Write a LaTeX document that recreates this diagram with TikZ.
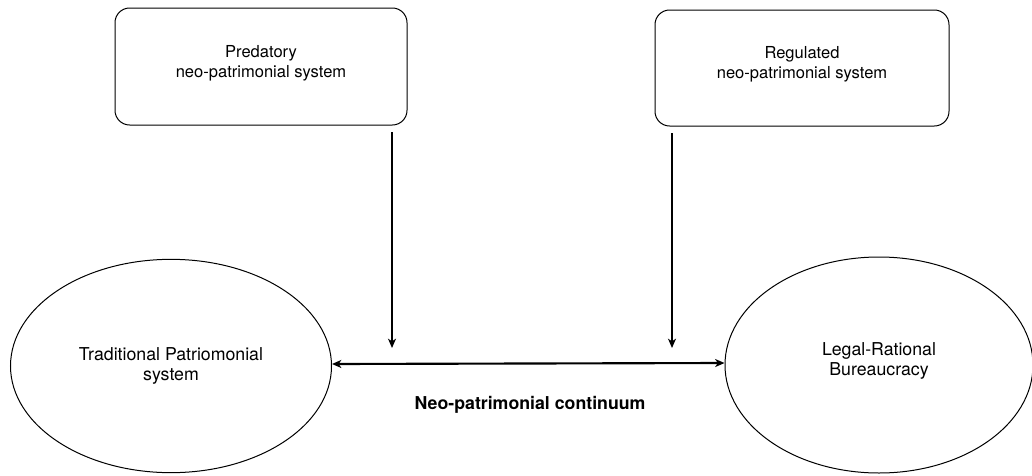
\documentclass[tikz,border=0pt]{standalone}
\usepackage{fontspec}
\setmainfont{TeX Gyre Heros}
\usetikzlibrary{arrows.meta,calc,shapes.geometric}
\definecolor{LineClr}{rgb}{0,0,0}

\begin{document}
\begin{tikzpicture}[x=0.75pt,y=-0.75pt,
  SysBox/.style={draw=LineClr,line width=0.75pt,rounded corners=11pt,align=center,
    font=\fontsize{12.4}{15}\selectfont,inner sep=0pt},
  SysEllipse/.style={draw=LineClr,ellipse,line width=0.75pt,align=center,
    font=\fontsize{13.3}{15}\selectfont,inner sep=0pt},
  FlowArrow/.style={line width=1.1pt,-{Stealth[length=7pt,width=6pt,inset=2pt]}},
  ContArrow/.style={line width=1.6pt,{Stealth[length=7pt,width=6pt,inset=2pt]}-{Stealth[length=7pt,width=6pt,inset=2pt]}}]
\useasboundingbox (0,0) rectangle (1032,475);

\node[SysBox,minimum width=219pt,minimum height=87.75pt] (Pred) at (261,66.5)
  {Predatory\\ neo-patrimonial system\\[-7pt]};
\node[SysBox,minimum width=220.5pt,minimum height=87pt] (Regul) at (802,68)
  {Regulated\\ neo-patrimonial system\\[-7pt]};

\node[SysEllipse,minimum width=240.75pt,minimum height=160pt] (Trad) at (171,366)
  {Traditional Patriomonial\\ system};
\node[SysEllipse,minimum width=231pt,minimum height=162pt] (Legal) at (879,365)
  {Legal-Rational\\ Bureaucracy\\[-6pt]};

\coordinate (PredEnd) at (392,348);
\coordinate (RegulEnd) at (672,348);

\draw[FlowArrow] ([yshift=-5pt]Pred.south -| PredEnd) -- (PredEnd);
\draw[FlowArrow] ([yshift=-5pt]Regul.south -| RegulEnd) -- (RegulEnd);

\draw[ContArrow] ([yshift=1.5pt]Trad.east) -- ([yshift=1.5pt]Legal.west);

\node[font=\fontsize{13.3}{15}\selectfont\bfseries] (Cont) at (530,405) {Neo-patrimonial continuum};

\end{tikzpicture}
\end{document}
